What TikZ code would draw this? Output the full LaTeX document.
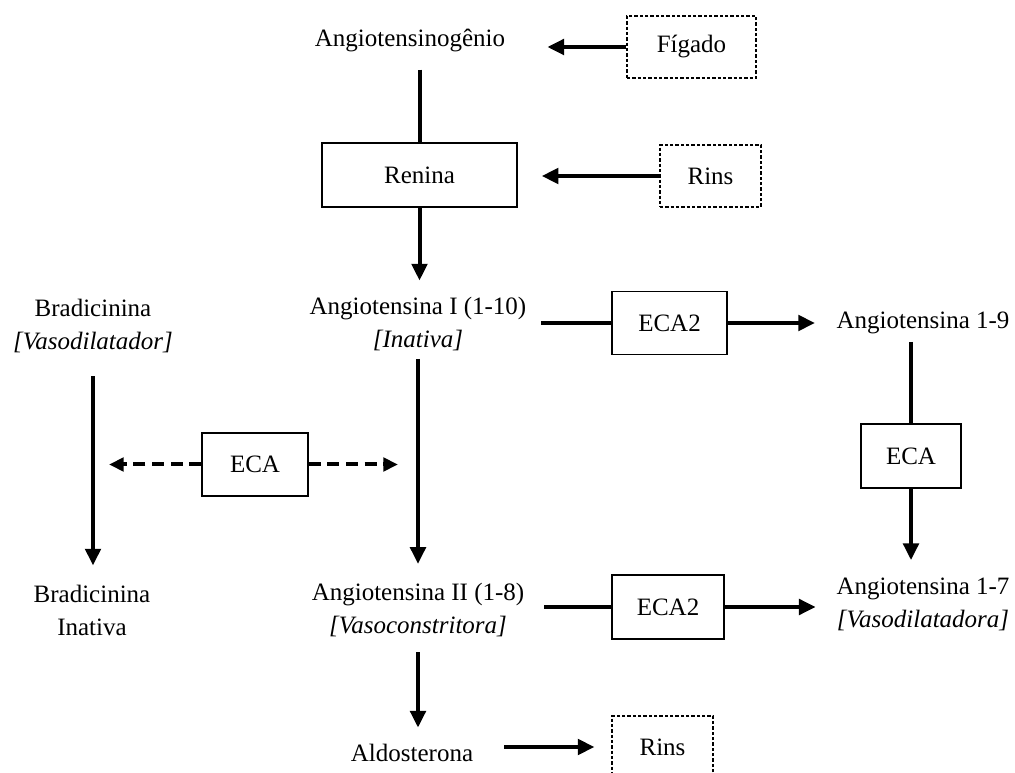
\documentclass[tikz,border=0pt]{standalone}
\usepackage{fontspec}
\setmainfont{Liberation Serif}
\usetikzlibrary{arrows.meta}
\begin{document}
\begin{tikzpicture}[x=0.75pt,y=-0.75pt,
  every node/.style={font=\fontsize{18.75}{24.75}\selectfont},
  txt/.style={inner sep=0pt, align=center},
  bx/.style 2 args={draw, line width=1.1pt, inner sep=0pt, minimum width=#1*0.75pt, minimum height=#2*0.75pt},
  dbx/.style 2 args={draw, line width=0.8pt, dash pattern=on 2.4pt off 1.6pt, inner sep=0pt, minimum width=#1*0.75pt, minimum height=#2*0.75pt},
  ln/.style={line width=3pt},
  arr/.style={line width=3pt, -{Triangle[length=12.5pt,width=11.5pt]}},
  darr/.style={line width=3pt, dash pattern=on 9pt off 5pt, -{Triangle[length=11pt,width=10pt]}}]
\useasboundingbox (0,0) rectangle (1015,773);
\clip (0,0) rectangle (1015,773);
% nodes
\node[txt] (angio) at (410,41) {Angiotensinogênio};
\node[dbx={129}{62}] (figado) at (691.5,47) {Fígado};
\node[bx={195}{64}] (renina) at (419.5,175) {Renina};
\node[dbx={101}{62}] (rins1) at (710.5,176) {Rins};
\node[txt] (angI) at (418,324) {Angiotensina I (1-10)\\\textit{[Inativa]}};
\node[txt] (brad) at (93,326) {Bradicinina\\\textit{[Vasodilatador]}};
\node[bx={115}{63}] (eca2a) at (669.5,323) {ECA2};
\node[txt] (ang19) at (923,323) {Angiotensina 1-9};
\node[bx={106}{63}] (eca1) at (255,464.5) {ECA};
\node[bx={100}{64}] (eca3) at (911,456) {ECA};
\node[txt] (bradin) at (92,610) {Bradicinina\\Inativa};
\node[txt] (angII) at (418,610) {Angiotensina II (1-8)\\\textit{[Vasoconstritora]}};
\node[bx={112}{64}] (eca2b) at (668,607) {ECA2};
\node[txt] (ang17) at (923,604.5) {Angiotensina 1-7\\\textit{[Vasodilatadora]}};
\node[txt] (aldo) at (412,753) {Aldosterona};
\node[dbx={101}{62}] (rins2) at (662.5,747) {Rins};
% connectors
\draw[arr, shorten >=31.5pt] (figado.west) -- (figado.west -| angio.east);
\draw[ln, shorten <=12.75pt] (angio.south -| renina.north) -- (renina.north);
\draw[arr, shorten >=18pt] (rins1.west) -- (rins1.west -| renina.east);
\draw[arr, shorten >=12.25pt] (renina.south) -- (renina.south |- angI.north);
\draw[arr, shorten <=5.75pt, shorten >=14.25pt] (angI.south) -- (angII.north);
\draw[ln, shorten <=11pt] (angI.east |- eca2a.west) -- (eca2a.west);
\draw[arr, shorten >=16pt] (eca2a.east) -- (eca2a.east -| ang19.west);
\draw[ln, shorten <=5.75pt] (ang19.south -| eca3.north) -- (eca3.north);
\draw[arr, shorten >=13.25pt] (eca3.south) -- (eca3.south |- ang17.north);
\draw[ln, shorten <=15pt] (angII.east |- eca2b.west) -- (eca2b.west);
\draw[arr, shorten >=15.5pt] (eca2b.east) -- (eca2b.east -| ang17.west);
\draw[arr, shorten <=11.25pt, shorten >=12.25pt] (angII.south) -- (angII.south |- aldo.north);
\draw[arr, shorten <=23pt, shorten >=12.75pt] (aldo.east |- rins2.west) -- (rins2.west);
\draw[arr, shorten <=17.25pt, shorten >=14.25pt] (brad.south) -- (brad.south |- bradin.north);
\draw[darr, shorten >=12pt] (eca1.west) -- (eca1.west -| brad.south);
\draw[darr, shorten >=15pt] (eca1.east) -- (eca1.east -| angI.south);
\end{tikzpicture}
\end{document}
